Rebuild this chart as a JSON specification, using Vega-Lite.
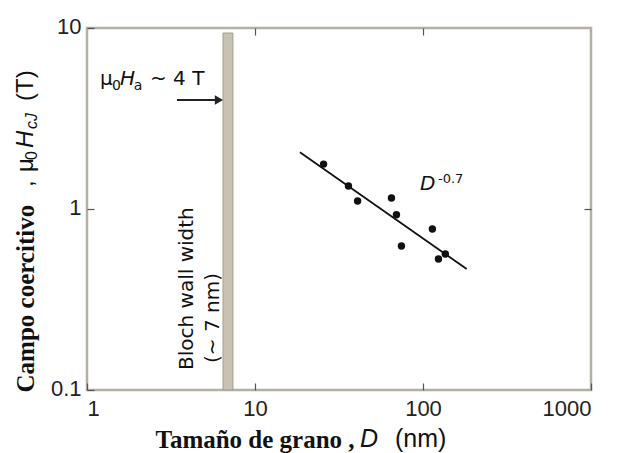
{
  "$schema": "https://vega.github.io/schema/vega-lite/v6.json",
  "width": 504,
  "height": 362,
  "autosize": "none",
  "padding": {"left": 87, "top": 28, "right": 33, "bottom": 63},
  "background": "white",
  "config": {
    "view": {"stroke": "#b3afa3", "strokeWidth": 2.5},
    "axis": {
      "domain": false,
      "grid": false,
      "labelFont": "Liberation Sans",
      "labelFontSize": 22,
      "labelColor": "#222",
      "tickColor": "#555",
      "tickWidth": 1.2,
      "tickSize": -7
    }
  },
  "datasets": {
    "points": [
      {"D": 25.6, "Hc": 1.77},
      {"D": 36.0, "Hc": 1.34},
      {"D": 40.8, "Hc": 1.107},
      {"D": 64.9, "Hc": 1.15},
      {"D": 69.5, "Hc": 0.93},
      {"D": 113.7, "Hc": 0.775},
      {"D": 74.4, "Hc": 0.624},
      {"D": 135.8, "Hc": 0.564},
      {"D": 123.6, "Hc": 0.529}
    ],
    "fit": [
      {"D": 18.5, "Hc": 2.06},
      {"D": 182, "Hc": 0.466}
    ],
    "band": [
      {"D": 6.45, "D2": 7.39, "Hc": 0.1, "Hc2": 9.38}
    ]
  },
  "layer": [
    {
      "data": {"name": "band"},
      "mark": {"type": "rect", "fill": "#c8c2b2", "stroke": "#a39d8b", "strokeWidth": 1},
      "encoding": {
        "x": {
          "field": "D", "type": "quantitative",
          "scale": {"type": "log", "domain": [1, 1000], "nice": false},
          "axis": {
            "values": [1, 10, 100, 1000], "format": "d",
            "labelPadding": 15,
            "title": "Tamaño de grano ,",
            "titleFont": "Liberation Serif", "titleFontWeight": "bold", "titleFontSize": 25, "titleColor": "#111",
            "titleX": 68, "titleY": 57, "titleAlign": "left", "titleBaseline": "alphabetic", "titleAnchor": "start"
          }
        },
        "x2": {"field": "D2"},
        "y": {
          "field": "Hc", "type": "quantitative",
          "scale": {"type": "log", "domain": [0.1, 10], "nice": false},
          "axis": {
            "values": [0.1, 1, 10], "format": "~g",
            "labelPadding": 13, "labelOffset": -2,
            "title": "Campo coercitivo",
            "titleFont": "Liberation Serif", "titleFontWeight": "bold", "titleFontSize": 25, "titleColor": "#111",
            "titleAngle": 270, "titleX": -54, "titleY": 364, "titleAlign": "left", "titleBaseline": "alphabetic", "titleAnchor": "start"
          }
        },
        "y2": {"field": "Hc2"}
      }
    },
    {
      "data": {"name": "fit"},
      "mark": {"type": "line", "color": "#111", "strokeWidth": 1.8},
      "encoding": {
        "x": {"field": "D", "type": "quantitative", "axis": {"orient": "top", "values": [10, 100], "labels": false, "title": null}},
        "y": {"field": "Hc", "type": "quantitative", "axis": {"orient": "right", "values": [1], "labels": false, "title": null}}
      }
    },
    {
      "data": {"name": "points"},
      "mark": {"type": "point", "filled": true, "color": "#111", "size": 55, "opacity": 1},
      "encoding": {
        "x": {"field": "D", "type": "quantitative", "axis": null},
        "y": {"field": "Hc", "type": "quantitative", "axis": null}
      }
    },
    {
      "data": {"values": [{"D": 3.43, "D2": 6.0, "Hc": 4.0}]},
      "mark": {"type": "rule", "color": "#222", "strokeWidth": 2},
      "encoding": {
        "x": {"field": "D", "type": "quantitative", "axis": null},
        "x2": {"field": "D2"},
        "y": {"field": "Hc", "type": "quantitative", "axis": null}
      }
    },
    {
      "data": {"values": [{"D": 6.1, "Hc": 4.0}]},
      "mark": {"type": "point", "shape": "triangle-right", "filled": true, "color": "#222", "size": 90, "opacity": 1},
      "encoding": {
        "x": {"field": "D", "type": "quantitative", "axis": null},
        "y": {"field": "Hc", "type": "quantitative", "axis": null}
      }
    },
    {
      "data": {"values": [{"t": "μ", "D": 1.195, "Hc": 4.84}, {"t": "~ 4 T", "D": 2.371, "Hc": 4.84}]},
      "mark": {"type": "text", "font": "DejaVu Sans", "fontSize": 20, "align": "left", "baseline": "alphabetic", "color": "#111"},
      "encoding": {
        "x": {"field": "D", "type": "quantitative", "axis": null},
        "y": {"field": "Hc", "type": "quantitative", "axis": null},
        "text": {"field": "t"}
      }
    },
    {
      "data": {"values": [{"t": "H", "D": 1.571, "Hc": 4.84}]},
      "mark": {"type": "text", "font": "DejaVu Sans", "fontSize": 20, "fontStyle": "italic", "align": "left", "baseline": "alphabetic", "color": "#111"},
      "encoding": {
        "x": {"field": "D", "type": "quantitative", "axis": null},
        "y": {"field": "Hc", "type": "quantitative", "axis": null},
        "text": {"field": "t"}
      }
    },
    {
      "data": {"values": [{"t": "0", "D": 1.409, "Hc": 4.54}, {"t": "a", "D": 1.9, "Hc": 4.54}]},
      "mark": {"type": "text", "font": "DejaVu Sans", "fontSize": 14, "align": "left", "baseline": "alphabetic", "color": "#111"},
      "encoding": {
        "x": {"field": "D", "type": "quantitative", "axis": null},
        "y": {"field": "Hc", "type": "quantitative", "axis": null},
        "text": {"field": "t"}
      }
    },
    {
      "data": {"values": [{"t": "Bloch wall width", "D": 4.27, "Hc": 0.129}, {"t": "(~ 7 nm)", "D": 6.1, "Hc": 0.141}]},
      "mark": {"type": "text", "font": "DejaVu Sans", "fontSize": 20, "angle": 270, "align": "left", "baseline": "alphabetic", "color": "#111"},
      "encoding": {
        "x": {"field": "D", "type": "quantitative", "axis": null},
        "y": {"field": "Hc", "type": "quantitative", "axis": null},
        "text": {"field": "t"}
      }
    },
    {
      "data": {"values": [{"t": "D", "D": 96, "Hc": 1.273}]},
      "mark": {"type": "text", "font": "DejaVu Sans", "fontSize": 20, "fontStyle": "italic", "align": "left", "baseline": "alphabetic", "color": "#111"},
      "encoding": {
        "x": {"field": "D", "type": "quantitative", "axis": null},
        "y": {"field": "Hc", "type": "quantitative", "axis": null},
        "text": {"field": "t"}
      }
    },
    {
      "data": {"values": [{"t": "-0.7", "D": 122.8, "Hc": 1.392}]},
      "mark": {"type": "text", "font": "DejaVu Sans", "fontSize": 13, "align": "left", "baseline": "alphabetic", "color": "#111"},
      "encoding": {
        "x": {"field": "D", "type": "quantitative", "axis": null},
        "y": {"field": "Hc", "type": "quantitative", "axis": null},
        "text": {"field": "t"}
      }
    },
    {
      "data": {"values": [{"t": ",", "D": 0.477, "Hc": 1.323}, {"t": "μ", "D": 0.477, "Hc": 1.601}, {"t": "(T)", "D": 0.477, "Hc": 3.95}]},
      "mark": {"type": "text", "font": "Liberation Sans", "fontSize": 24, "angle": 270, "align": "left", "baseline": "alphabetic", "color": "#111"},
      "encoding": {
        "x": {"field": "D", "type": "quantitative", "axis": null},
        "y": {"field": "Hc", "type": "quantitative", "axis": null},
        "text": {"field": "t"}
      }
    },
    {
      "data": {"values": [{"t": "H", "D": 0.477, "Hc": 2.17}]},
      "mark": {"type": "text", "font": "Liberation Sans", "fontSize": 24, "fontStyle": "italic", "angle": 270, "align": "left", "baseline": "alphabetic", "color": "#111"},
      "encoding": {
        "x": {"field": "D", "type": "quantitative", "axis": null},
        "y": {"field": "Hc", "type": "quantitative", "axis": null},
        "text": {"field": "t"}
      }
    },
    {
      "data": {"values": [{"t": "0", "D": 0.504, "Hc": 1.865}]},
      "mark": {"type": "text", "font": "Liberation Sans", "fontSize": 16, "angle": 270, "align": "left", "baseline": "alphabetic", "color": "#111"},
      "encoding": {
        "x": {"field": "D", "type": "quantitative", "axis": null},
        "y": {"field": "Hc", "type": "quantitative", "axis": null},
        "text": {"field": "t"}
      }
    },
    {
      "data": {"values": [{"t": "cJ", "D": 0.504, "Hc": 2.77}]},
      "mark": {"type": "text", "font": "Liberation Sans", "fontSize": 16, "fontStyle": "italic", "angle": 270, "align": "left", "baseline": "alphabetic", "color": "#111"},
      "encoding": {
        "x": {"field": "D", "type": "quantitative", "axis": null},
        "y": {"field": "Hc", "type": "quantitative", "axis": null},
        "text": {"field": "t"}
      }
    },
    {
      "data": {"values": [{"t": "D", "D": 42.2, "Hc": 0.0484}]},
      "mark": {"type": "text", "font": "Liberation Sans", "fontSize": 25, "fontStyle": "italic", "align": "left", "baseline": "alphabetic", "color": "#111"},
      "encoding": {
        "x": {"field": "D", "type": "quantitative", "axis": null},
        "y": {"field": "Hc", "type": "quantitative", "axis": null},
        "text": {"field": "t"}
      }
    },
    {
      "data": {"values": [{"t": "(nm)", "D": 68.1, "Hc": 0.0484}]},
      "mark": {"type": "text", "font": "Liberation Sans", "fontSize": 25, "align": "left", "baseline": "alphabetic", "color": "#111"},
      "encoding": {
        "x": {"field": "D", "type": "quantitative", "axis": null},
        "y": {"field": "Hc", "type": "quantitative", "axis": null},
        "text": {"field": "t"}
      }
    }
  ],
  "resolve": {"axis": {"x": "independent", "y": "independent"}}
}
